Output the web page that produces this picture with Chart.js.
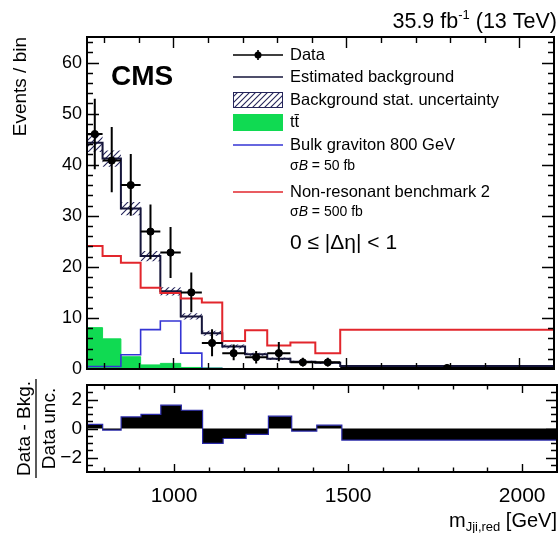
<!DOCTYPE html>
<html><head><meta charset="utf-8">
<script src="https://cdn.jsdelivr.net/npm/chart.js@4"></script>
<style>
html,body{margin:0;padding:0;background:#fff;width:559px;height:533px;overflow:hidden}
canvas{position:absolute;left:0}
</style></head><body>
<canvas id="main" width="559" height="400" style="top:0px"></canvas>
<canvas id="ratio" width="559" height="173" style="top:360px"></canvas>
<script>
// ---------- data ----------
const binEdges    = [750, 795, 848, 905, 962, 1021, 1082, 1141, 1207, 1271, 1338, 1410, 1482, 2100];
const bkg         = [44.3, 41.2, 31.4, 22.1, 15.2, 10.3, 7.0, 4.4, 2.9, 2.0, 1.4, 1.2, 0.6];
const bkgUnc      = [1.8, 1.6, 1.3, 1.0, 0.8, 0.6, 0.5, 0.4, 0.3, 0.25, 0.2, 0.2, 0.1];
const ttbar       = [8.1, 5.9, 2.4, 0.8, 1.1, 0.3, 0.2, 0.1, 0.1, 0.1, 0.05, 0.05, 0.05];
const graviton    = [0.5, 0.5, 2.8, 7.7, 9.4, 3.1, 0.1, 0, 0, 0, 0, 0, 0];
const nonRes      = [24.1, 22.1, 20.8, 15.9, 14.9, 13.8, 13.0, 5.5, 7.6, 4.6, 5.2, 3.1, 7.7];
const dataCounts  = [46.0, 40.8, 36.0, 26.9, 22.8, 15.0, 5.1, 3.1, 2.3, 3.1, 1.3, 1.3, 0.2];
const dataErrUp   = [6.9, 6.6, 6.1, 5.3, 5.0, 3.9, 2.7, 1.7, 1.2, 2.2, 0.9, 0.9, 0.3];
const dataErrDown = [6.9, 6.2, 6.0, 5.4, 5.0, 3.9, 2.6, 1.4, 1.2, 1.6, 0.8, 0.8, 0.2];
const pull        = [0.28, -0.11, 0.80, 0.97, 1.61, 1.26, -1.03, -0.69, -0.41, 0.85, -0.18, 0.23, -0.80];

const xTickLabels      = [1000, 1500, 2000];
const mainYTickLabels  = [0, 10, 20, 30, 40, 50, 60];
const ratioYTickLabels = [-2, 0, 2];

// ---------- helpers ----------
const FONT = "'Liberation Sans', Arial, Helvetica, sans-serif";
Chart.defaults.font.family = FONT;
Chart.defaults.color = '#000';

function histPoints(vals) {
  return binEdges.map((e, i) => ({x: e, y: vals[Math.min(i, vals.length - 1)]}));
}
function centers() {
  return dataCounts.map((v, i) => ({x: (binEdges[i] + binEdges[i + 1]) / 2, y: v}));
}
function range(a, b, s) { const r = []; for (let v = a; v <= b + 1e-9; v += s) r.push(Math.round(v * 1000) / 1000); return r; }

function makeHatch() {
  const c = document.createElement('canvas'); c.width = 6; c.height = 6;
  const g = c.getContext('2d');
  g.strokeStyle = '#24245a'; g.lineWidth = 1.1;
  g.beginPath();
  g.moveTo(0, 6); g.lineTo(6, 0);
  g.moveTo(-1, 1); g.lineTo(1, -1);
  g.moveTo(5, 7); g.lineTo(7, 5);
  g.stroke();
  return g.createPattern(c, 'repeat');
}
const hatch = makeHatch();

const COL_BKG = '#15153a', COL_RED = '#e2262c', COL_BLUE = '#3434d4', COL_GREEN = '#10da52';

// ticks inside frame + frame
const frameTicks = {
  id: 'frameTicks',
  afterDraw(chart, args, o) {
    const {ctx, chartArea: a, scales: {x, y}} = chart;
    ctx.save();
    ctx.strokeStyle = '#000';
    ctx.lineWidth = 1.4;
    ctx.beginPath();
    const xt = (vals, len) => vals.forEach(v => {
      const px = Math.round(x.getPixelForValue(v)) + 0.5;
      if (px < a.left + 1 || px > a.right - 1) return;
      ctx.moveTo(px, a.bottom); ctx.lineTo(px, a.bottom - len);
      ctx.moveTo(px, a.top); ctx.lineTo(px, a.top + len);
    });
    const yt = (vals, len) => vals.forEach(v => {
      const py = Math.round(y.getPixelForValue(v)) + 0.5;
      if (py < a.top + 1 || py > a.bottom - 1) return;
      ctx.moveTo(a.left, py); ctx.lineTo(a.left + len, py);
      ctx.moveTo(a.right, py); ctx.lineTo(a.right - len, py);
    });
    xt(o.xMinor, o.xMinLen); xt(o.xMajor, o.xMajLen);
    yt(o.yMinor, o.yMinLen); yt(o.yMajor, o.yMajLen);
    ctx.stroke();
    ctx.lineWidth = 2;
    ctx.strokeRect(a.left, a.top, a.right - a.left, a.bottom - a.top);
    ctx.restore();
  }
};

// data error bars
const errorBars = {
  id: 'errorBars',
  afterDatasetsDraw(chart) {
    const {ctx, scales: {x, y}, chartArea: a} = chart;
    ctx.save();
    ctx.beginPath(); ctx.rect(a.left, a.top, a.right - a.left, a.bottom - a.top); ctx.clip();
    ctx.strokeStyle = '#000'; ctx.lineWidth = 2;
    ctx.beginPath();
    dataCounts.forEach((v, i) => {
      const xl = x.getPixelForValue(binEdges[i]), xr = x.getPixelForValue(binEdges[i + 1]);
      const xc = x.getPixelForValue((binEdges[i] + binEdges[i + 1]) / 2);
      const yc = y.getPixelForValue(v);
      ctx.moveTo(xl, yc); ctx.lineTo(xr, yc);
      ctx.moveTo(xc, y.getPixelForValue(v + dataErrUp[i])); ctx.lineTo(xc, y.getPixelForValue(Math.max(0, v - dataErrDown[i])));
    });
    ctx.stroke();
    ctx.restore();
  }
};

// texts and legend of the main pad
const mainDecor = {
  id: 'mainDecor',
  afterDraw(chart) {
    const ctx = chart.ctx;
    ctx.save();
    ctx.fillStyle = '#000';
    ctx.textBaseline = 'alphabetic';
    ctx.textAlign = 'left';
    // lumi label
    const right = 557;
    ctx.font = `21.5px ${FONT}`;
    const t1 = '35.9 fb', t2 = ' (13 TeV)';
    const w1 = ctx.measureText(t1).width, w2 = ctx.measureText(t2).width;
    ctx.font = `13px ${FONT}`;
    const ws = ctx.measureText('-1').width;
    const xs = right - w2 - ws - w1;
    ctx.font = `21.5px ${FONT}`;
    ctx.fillText(t1, xs, 28);
    ctx.font = `13px ${FONT}`;
    ctx.fillText('-1', xs + w1, 19);
    ctx.font = `21.5px ${FONT}`;
    ctx.fillText(t2, xs + w1 + ws, 28);
    // CMS
    ctx.font = `bold 28px ${FONT}`;
    ctx.fillText('CMS', 111, 85);
    // y title
    ctx.save();
    ctx.translate(26, 37);
    ctx.rotate(-Math.PI / 2);
    ctx.font = `19px ${FONT}`;
    ctx.textAlign = 'right';
    ctx.fillText('Events / bin', 0, 0);
    ctx.restore();

    // legend
    const x0 = 233, x1 = 283, tx = 290;
    ctx.textAlign = 'left'; ctx.textBaseline = 'middle';
    ctx.font = `16.5px ${FONT}`;
    let yy = 55;
    ctx.strokeStyle = '#000'; ctx.lineWidth = 1.6;
    ctx.beginPath(); ctx.moveTo(x0, yy); ctx.lineTo(x1, yy); ctx.moveTo(258, yy - 5); ctx.lineTo(258, yy + 5); ctx.stroke();
    ctx.beginPath(); ctx.arc(258, yy, 3.5, 0, 2 * Math.PI); ctx.fill();
    ctx.fillText('Data', tx, yy);
    yy = 77;
    ctx.strokeStyle = COL_BKG; ctx.lineWidth = 1.6;
    ctx.beginPath(); ctx.moveTo(x0, yy); ctx.lineTo(x1, yy); ctx.stroke();
    ctx.fillText('Estimated background', tx, yy);
    yy = 100;
    ctx.fillStyle = hatch; ctx.fillRect(x0, yy - 8, x1 - x0, 16);
    ctx.strokeStyle = '#24245a'; ctx.lineWidth = 1;
    ctx.strokeRect(x0 + 0.5, yy - 7.5, x1 - x0 - 1, 15);
    ctx.fillStyle = '#000';
    ctx.fillText('Background stat. uncertainty', tx, yy);
    yy = 122;
    ctx.fillStyle = COL_GREEN; ctx.fillRect(x0, yy - 8, x1 - x0, 17);
    ctx.fillStyle = '#000';
    ctx.fillText('t\u0074\u0304', tx, yy);
    yy = 145;
    ctx.strokeStyle = COL_BLUE; ctx.lineWidth = 1.6;
    ctx.beginPath(); ctx.moveTo(x0, yy); ctx.lineTo(x1, yy); ctx.stroke();
    ctx.fillText('Bulk graviton 800 GeV', tx, yy);
    const sigmaB = (yv, txt) => {
      ctx.font = `14px ${FONT}`;
      ctx.fillText('\u03c3', tx, yv);
      let w = ctx.measureText('\u03c3').width;
      ctx.font = `italic 14px ${FONT}`;
      ctx.fillText('B', tx + w, yv);
      w += ctx.measureText('B').width;
      ctx.font = `14px ${FONT}`;
      ctx.fillText(txt, tx + w, yv);
      ctx.font = `16.5px ${FONT}`;
    };
    sigmaB(166, ' = 50 fb');
    yy = 192;
    ctx.strokeStyle = COL_RED; ctx.lineWidth = 1.6;
    ctx.beginPath(); ctx.moveTo(x0, yy); ctx.lineTo(x1, yy); ctx.stroke();
    ctx.fillText('Non-resonant benchmark 2', tx, yy);
    sigmaB(212, ' = 500 fb');
    ctx.font = `21px ${FONT}`;
    ctx.fillText('0 \u2264 |\u0394\u03b7| < 1', tx, 243);
    ctx.restore();
  }
};

// texts of the ratio pad
const ratioDecor = {
  id: 'ratioDecor',
  afterDraw(chart) {
    const ctx = chart.ctx;
    const a = chart.chartArea;
    const cy = (a.top + a.bottom) / 2;
    ctx.save();
    ctx.fillStyle = '#000';
    ctx.font = `19px ${FONT}`;
    ctx.textAlign = 'center'; ctx.textBaseline = 'alphabetic';
    const wn = ctx.measureText('Data - Bkg.').width;
    ctx.save(); ctx.translate(30, cy); ctx.rotate(-Math.PI / 2); ctx.fillText('Data - Bkg.', 0, 0); ctx.restore();
    ctx.save(); ctx.translate(55, cy); ctx.rotate(-Math.PI / 2); ctx.fillText('Data unc.', 0, 0); ctx.restore();
    ctx.strokeStyle = '#000'; ctx.lineWidth = 1.3;
    ctx.beginPath(); ctx.moveTo(36, cy - wn / 2 - 2); ctx.lineTo(36, cy + wn / 2 + 2); ctx.stroke();
    // x title
    const right = 557, base = 527 - 360;
    ctx.textAlign = 'left';
    ctx.font = `20px ${FONT}`;
    const tEnd = ' [GeV]';
    const wEnd = ctx.measureText(tEnd).width;
    const wm = ctx.measureText('m').width;
    ctx.font = `13px ${FONT}`;
    const sub = 'Jji,red';
    const wsub = ctx.measureText(sub).width;
    const xs = right - wEnd - wsub - wm;
    ctx.font = `20px ${FONT}`;
    ctx.fillText('m', xs, base);
    ctx.font = `13px ${FONT}`;
    ctx.fillText(sub, xs + wm, base + 4);
    ctx.font = `20px ${FONT}`;
    ctx.fillText(tEnd, xs + wm + wsub, base);
    ctx.restore();
  }
};

const lineDs = (label, vals, color, width, extra) => Object.assign({
  label, data: histPoints(vals), borderColor: color, borderWidth: width,
  stepped: true, pointRadius: 0, fill: false, tension: 0
}, extra || {});

const xMinorMain = range(800, 2100, 100).filter(v => !xTickLabels.includes(v));

new Chart(document.getElementById('main'), {
  type: 'line',
  data: {
    datasets: [
      {label: 'Data', data: centers(), showLine: false, pointRadius: 3.6, pointBackgroundColor: '#000', pointBorderColor: '#000', borderColor: '#000'},
      lineDs('Non-resonant benchmark 2', nonRes, COL_RED, 2),
      lineDs('Bulk graviton 800 GeV', graviton, COL_BLUE, 1.6),
      lineDs('Estimated background', bkg, COL_BKG, 2),
      lineDs('unc up', bkg.map((v, i) => v + bkgUnc[i]), 'transparent', 1, {fill: '+1', backgroundColor: hatch}),
      lineDs('unc down', bkg.map((v, i) => Math.max(0, v - bkgUnc[i])), 'transparent', 1),
      lineDs('ttbar', ttbar, COL_GREEN, 1, {fill: 'origin', backgroundColor: COL_GREEN})
    ]
  },
  options: {
    responsive: false, animation: false, devicePixelRatio: 1,
    layout: {padding: {top: 37, right: 2, left: 0, bottom: 0}},
    plugins: {
      legend: {display: false}, tooltip: {enabled: false},
      frameTicks: {
        xMajor: xTickLabels, xMinor: xMinorMain, xMajLen: 11, xMinLen: 6,
        yMajor: mainYTickLabels, yMinor: range(2, 64, 2).filter(v => v % 10 !== 0), yMajLen: 12, yMinLen: 6
      }
    },
    scales: {
      x: {
        type: 'linear', min: 750, max: 2100,
        grid: {display: false, drawTicks: false}, border: {display: false},
        ticks: {display: false},
        afterFit: s => { s.height = 31; }
      },
      y: {
        min: 0, max: 65,
        grid: {display: false, drawTicks: false}, border: {display: false},
        ticks: {font: {size: 18}, padding: 5, color: '#000'},
        afterBuildTicks: s => { s.ticks = mainYTickLabels.map(v => ({value: v})); },
        afterFit: s => { s.width = 87; }
      }
    }
  },
  plugins: [errorBars, frameTicks, mainDecor]
});

new Chart(document.getElementById('ratio'), {
  type: 'line',
  data: {
    datasets: [
      lineDs('pull', pull, '#2a2aa8', 1.2, {fill: 'origin', backgroundColor: '#000'})
    ]
  },
  options: {
    responsive: false, animation: false, devicePixelRatio: 1,
    layout: {padding: {top: 25, right: 2, left: 0, bottom: 0}},
    plugins: {
      legend: {display: false}, tooltip: {enabled: false},
      frameTicks: {
        xMajor: xTickLabels, xMinor: xMinorMain, xMajLen: 8, xMinLen: 4.5,
        yMajor: ratioYTickLabels, yMinor: range(-2.5, 2.5, 0.5).filter(v => v % 2 !== 0), yMajLen: 11, yMinLen: 6
      }
    },
    scales: {
      x: {
        type: 'linear', min: 750, max: 2100,
        grid: {display: false, drawTicks: false}, border: {display: false},
        ticks: {font: {size: 21}, padding: 12, color: '#000', maxRotation: 0, callback: v => String(v)},
        afterBuildTicks: s => { s.ticks = xTickLabels.map(v => ({value: v})); },
        afterFit: s => { s.height = 61; }
      },
      y: {
        min: -3, max: 3,
        grid: {display: false, drawTicks: false}, border: {display: false},
        ticks: {font: {size: 19}, padding: 5, color: '#000', callback: v => v < 0 ? '\u2212' + Math.abs(v) : String(v)},
        afterBuildTicks: s => { s.ticks = ratioYTickLabels.map(v => ({value: v})); },
        afterFit: s => { s.width = 87; }
      }
    }
  },
  plugins: [frameTicks, ratioDecor]
});
</script>
</body></html>
